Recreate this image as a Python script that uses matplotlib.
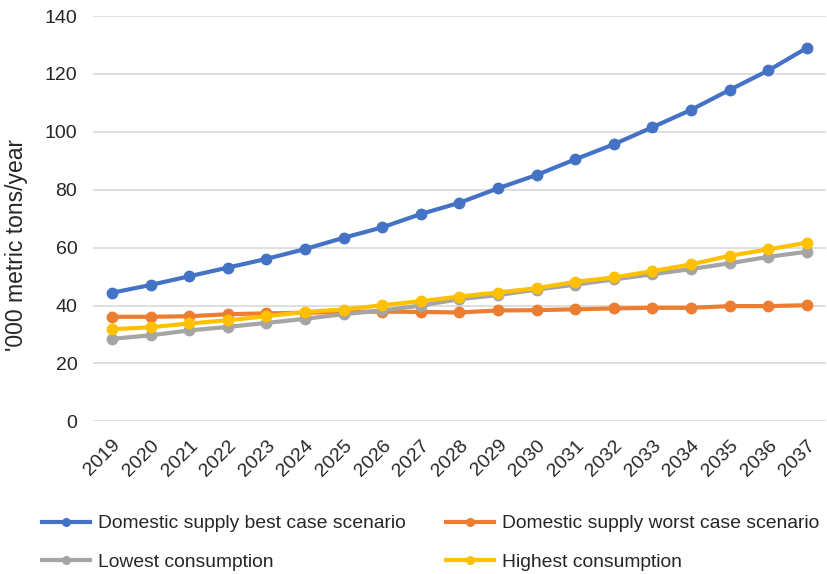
import matplotlib
matplotlib.use("Agg")
import matplotlib.pyplot as plt
from matplotlib.lines import Line2D

years = ["2019", "2020", "2021", "2022", "2023", "2024", "2025", "2026", "2027", "2028",
         "2029", "2030", "2031", "2032", "2033", "2034", "2035", "2036", "2037"]
best_case = [44.4, 47.1, 50.1, 53.1, 56.1, 59.5, 63.4, 67.0, 71.6, 75.5,
             80.5, 85.1, 90.5, 95.7, 101.6, 107.6, 114.5, 121.2, 129.0]
worst_case = [36.1, 36.1, 36.3, 37.0, 37.3, 37.5, 37.8, 37.9, 37.8, 37.6,
              38.3, 38.4, 38.7, 39.0, 39.2, 39.2, 39.8, 39.8, 40.1]
lowest = [28.5, 29.7, 31.4, 32.6, 34.0, 35.4, 37.0, 38.3, 40.0, 42.2,
          43.6, 45.5, 47.2, 49.0, 50.8, 52.6, 54.6, 56.8, 58.6]
highest = [31.8, 32.5, 33.8, 34.9, 36.3, 37.8, 38.6, 40.1, 41.5, 43.1,
           44.5, 46.0, 48.2, 49.7, 51.9, 54.2, 57.2, 59.4, 61.7]
series_names = ["Domestic supply best case scenario", "Domestic supply worst case scenario",
                "Lowest consumption", "Highest consumption"]
y_label = "'000 metric tons/year"

colors = ["#4472C4", "#ED7D31", "#A5A5A5", "#FFC000"]
text_color = "#262626"

plt.rcParams['font.family'] = ['Liberation Sans', 'DejaVu Sans']

fig = plt.figure(figsize=(8.27, 5.74), dpi=100)
ax = fig.add_axes([0.112, 0.266, 0.887, 0.706])

x = list(range(len(years)))
for vals, c, name in zip([best_case, worst_case, lowest, highest], colors, series_names):
    ax.plot(x, vals, color=c, lw=3, marker='o', markersize=7.5, label=name,
            solid_capstyle='round', solid_joinstyle='round')

ax.set_xlim(-0.5, len(years) - 0.5)
ax.set_ylim(0, 140)
ax.set_yticks(range(0, 141, 20))
ax.set_xticks(x)
ax.set_xticklabels(years, rotation=45, ha='right', va='top', rotation_mode='anchor')
ax.tick_params(axis='both', length=0, labelsize=14, colors=text_color)
ax.tick_params(axis='y', pad=11)
ax.tick_params(axis='x', pad=11)
ax.grid(axis='y', color='#D9D9D9', lw=1.2)
ax.set_axisbelow(True)
for s in ax.spines.values():
    s.set_visible(False)
ax.set_ylabel(y_label, fontsize=16.5, color=text_color)
ax.yaxis.set_label_coords(-0.088, 0.435)

# legend handles (smaller markers as in reference legend)
leg_handles = [Line2D([], [], color=c, lw=3, marker='o', markersize=5.5) for c in colors]
order = [0, 2, 1, 3]
fig.legend([leg_handles[i] for i in order], [series_names[i] for i in order],
           loc='upper left', bbox_to_anchor=(42 / 827, 1 - 515 / 574),
           ncol=2, frameon=False, fontsize=13.85, handlelength=2.5, handletextpad=0.42,
           columnspacing=2.1, labelspacing=1.1, borderpad=0, borderaxespad=0,
           labelcolor=text_color)

fig.savefig("out.png", dpi=100)
